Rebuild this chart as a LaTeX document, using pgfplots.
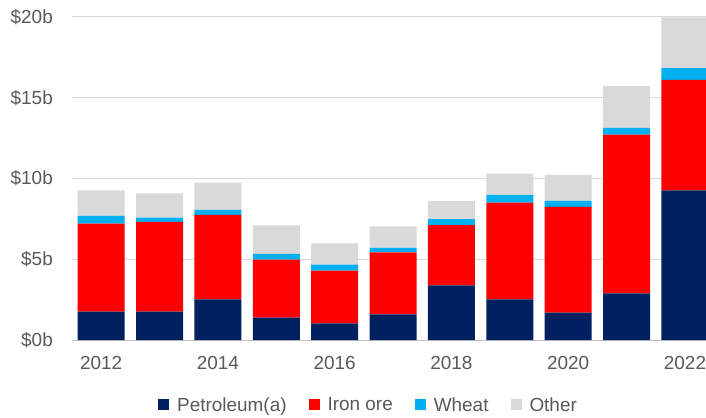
\documentclass[border=0pt]{standalone}
\usepackage{pgfplots}
\pgfplotsset{compat=1.18}
\usepackage{fontspec}
\setmainfont{Liberation Sans}
\definecolor{petro}{HTML}{002060}
\definecolor{iron}{HTML}{FF0000}
\definecolor{wheat}{HTML}{00B0F0}
\definecolor{other}{HTML}{D9D9D9}
\definecolor{txt}{HTML}{595959}
\definecolor{grid}{HTML}{D9D9D9}
\begin{document}
\begin{tikzpicture}
\path[use as bounding box] (-72bp,-78bp) rectangle (634bp,340bp);
\begin{axis}[
  scale only axis,
  width=634bp, height=323bp,
  anchor=south west, at={(0,0)},
  ybar stacked,
  bar width=0.805,
  xmin=-0.5, xmax=10.36,
  ymin=0, ymax=20,
  ytick={0,5,10,15,20},
  yticklabel={\$\pgfmathprintnumber{\tick}b},
  xtick={0,2,4,6,8,10},
  xticklabels={2012,2014,2016,2018,2020,2022},
  ymajorgrids,
  grid style={draw=grid, line width=1bp},
  axis x line*=bottom,
  axis y line*=left,
  y axis line style={draw=none},
  x axis line style={draw=grid!90!black, line width=1bp},
  major tick length=0pt,
  tick style={draw=none},
  tick label style={font=\fontsize{19}{22}\selectfont, text=txt},
  yticklabel style={anchor=east, inner sep=0pt, xshift=-19bp},
  xticklabel style={anchor=north, inner sep=0pt, yshift=-16bp},
  /pgf/number format/assume math mode=true,
  legend style={at={(0.4677,-0.201)}, anchor=center, draw=none, fill=none,
    font=\fontsize{19}{22}\selectfont, text=txt, inner sep=0pt,
    /tikz/every odd column/.append style={column sep=6bp},
    /tikz/every even column/.append style={column sep=20bp}},
  legend columns=-1,
  legend image code/.code={\fill[#1] (0bp,-5.5bp) rectangle (11bp,5.5bp);},
  every axis plot/.append style={draw=none},
]
\addplot[fill=petro] coordinates {(0,1.75) (1,1.75) (2,2.52) (3,1.38) (4,1.03) (5,1.59) (6,3.39) (7,2.52) (8,1.69) (9,2.89) (10,9.27)};
\addplot[fill=iron] coordinates {(0,5.45) (1,5.56) (2,5.22) (3,3.59) (4,3.26) (5,3.84) (6,3.73) (7,5.98) (8,6.56) (9,9.82) (10,6.83)};
\addplot[fill=wheat] coordinates {(0,0.48) (1,0.26) (2,0.31) (3,0.36) (4,0.37) (5,0.27) (6,0.37) (7,0.48) (8,0.36) (9,0.42) (10,0.74)};
\addplot[fill=other] coordinates {(0,1.59) (1,1.51) (2,1.69) (3,1.77) (4,1.33) (5,1.34) (6,1.12) (7,1.32) (8,1.61) (9,2.60) (10,3.14)};
\legend{Petroleum(a),Iron ore,Wheat,Other}
\end{axis}
\end{tikzpicture}
\end{document}
